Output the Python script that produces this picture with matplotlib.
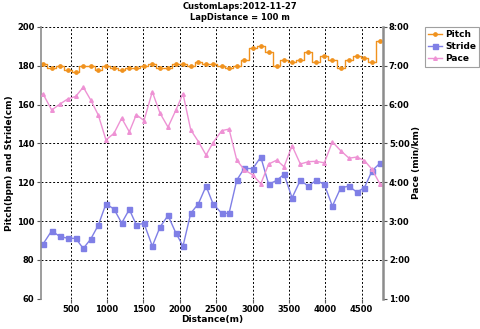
import matplotlib
matplotlib.use('Agg')
import matplotlib.pyplot as plt
from matplotlib.ticker import FuncFormatter

# lap end distances (m)
distance = [119, 239, 349, 463, 569, 673, 775, 880, 985, 1095,
            1201, 1306, 1402, 1508, 1622, 1728, 1838, 1944, 2044, 2150,
            2255, 2361, 2457, 2576, 2677, 2783, 2887, 3003, 3113, 3222,
            3333, 3433, 3543, 3657, 3767, 3873, 3987, 4097, 4213, 4327,
            4433, 4537, 4643, 4753]

pitch = [181, 179, 180, 178, 177, 180, 180, 178, 180, 179,
         178, 179, 179, 180, 181, 179, 179, 181, 181, 180,
         182, 181, 181, 180, 179, 180, 183, 189, 190, 187,
         180, 183, 182, 183, 187, 182, 185, 183, 179, 183,
         185, 184, 182, 193]

stride = [88.1, 95.0, 92.1, 91.1, 91.1, 85.9, 90.7, 97.9, 108.9, 106.2,
          99.0, 106.0, 98.1, 98.8, 87.1, 96.9, 102.9, 94.0, 87.1, 104.0,
          108.9, 118.0, 108.9, 104.0, 104.0, 121.1, 127.2, 127.0, 133.0, 118.9,
          121.0, 124.1, 112.0, 121.0, 118.0, 121.0, 118.9, 107.7, 117.2, 118.0,
          114.9, 117.2, 125.9, 129.9]

# pace in min/km
pace = [6.28, 5.86, 6.01, 6.15, 6.21, 6.45, 6.12, 5.73, 5.09, 5.26,
        5.65, 5.30, 5.74, 5.59, 6.33, 5.78, 5.42, 5.85, 6.28, 5.35,
        5.05, 4.70, 5.02, 5.33, 5.37, 4.57, 4.32, 4.19, 3.96, 4.47,
        4.57, 4.40, 4.94, 4.47, 4.53, 4.54, 4.50, 5.04, 4.81, 4.62,
        4.65, 4.56, 4.33, 3.95]

x_ticks = [500, 1000, 1500, 2000, 2500, 3000, 3500, 4000, 4500]
left_ticks = [60, 80, 100, 120, 140, 160, 180, 200]
pace_ticks = [1, 2, 3, 4, 5, 6, 7, 8]

c_pitch = '#f0921e'
c_stride = '#7f7fe6'
c_pace = '#ee92d4'
spine_col = '#8c8c8c'

plt.rcParams['font.family'] = 'DejaVu Sans'
plt.rcParams['font.weight'] = 'bold'

fig = plt.figure(figsize=(4.8, 3.29), dpi=100)
ax = fig.add_axes([0.0848, 0.092, 0.7125, 0.826])
ax2 = ax.twinx()

l1, = ax.plot(distance, pitch, drawstyle='steps-mid', color=c_pitch, lw=1,
              marker='o', ms=2.4, label='Pitch')
l2, = ax.plot(distance, stride, color=c_stride, lw=1, marker='s', ms=3.6,
              label='Stride')
l3, = ax2.plot(distance, pace, color=c_pace, lw=1, marker='^', ms=2.6,
               label='Pace')

ax.set_xlim(88, 4789)
ax.set_ylim(60, 200)
ax2.set_ylim(1, 8)
ax.set_xticks(x_ticks)
ax.set_yticks(left_ticks)
ax2.set_yticks(pace_ticks)
ax2.yaxis.set_major_formatter(FuncFormatter(lambda v, p: '%d:00' % v))

ax.grid(True, color='black', ls=(0, (2, 2)), lw=0.7)

for a in (ax, ax2):
    a.spines['top'].set_visible(False)
    a.spines['bottom'].set_visible(False)
    a.spines['left'].set_color(spine_col)
    a.spines['right'].set_color(spine_col)
    a.spines['left'].set_linewidth(1.2)
    a.spines['right'].set_linewidth(1.8)
    a.tick_params(labelsize=6, length=3, width=0.8, color='#555555', pad=1.5)
ax2.spines['left'].set_visible(False)
ax.spines['right'].set_visible(False)

ax.set_xlabel('Distance(m)', fontsize=6.5, fontweight='bold', labelpad=1)
ax.set_ylabel('Pitch(bpm) and Stride(cm)', fontsize=6.5, fontweight='bold', labelpad=2)
ax2.set_ylabel('Pace (min/km)', fontsize=6.5, fontweight='bold', labelpad=2)

fig.suptitle('CustomLaps:2012-11-27\nLapDistance = 100 m', x=0.5, y=0.995,
             fontsize=6, fontweight='bold', linespacing=1.35)

leg = fig.legend([l1, l2, l3], ['Pitch', 'Stride', 'Pace'],
                 loc='upper left', bbox_to_anchor=(0.885, 0.918),
                 fontsize=6.5, frameon=True, fancybox=False,
                 handlelength=1.6, handletextpad=0.3, borderpad=0.35,
                 labelspacing=0.35, borderaxespad=0)
leg.get_frame().set_edgecolor('#888888')
leg.get_frame().set_linewidth(0.8)

fig.savefig('out.png', dpi=100)
